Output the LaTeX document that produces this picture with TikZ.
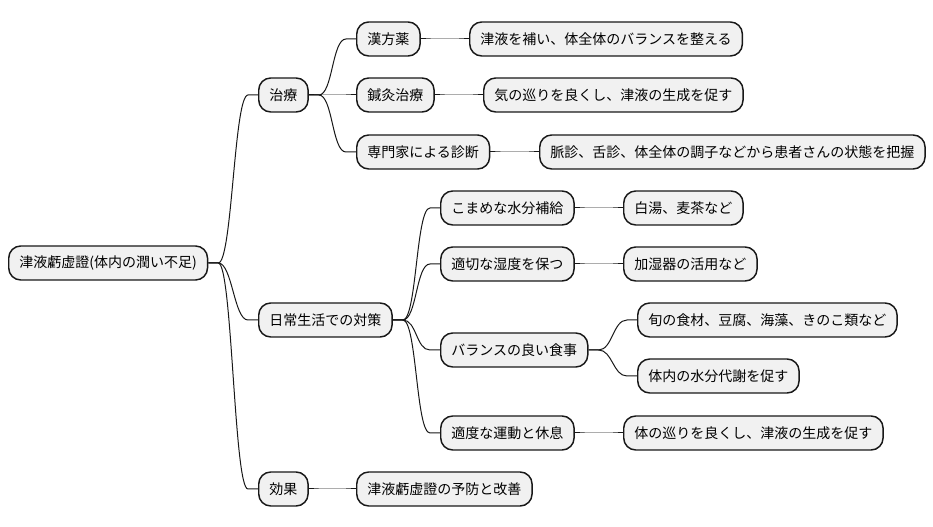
\documentclass[tikz,border=0pt]{standalone}
\usepackage{fontspec}
\setmainfont{Noto Sans CJK JP}
\usetikzlibrary{calc}
\definecolor{boxfill}{HTML}{F1F1F1}
\definecolor{boxline}{HTML}{181818}
\tikzset{
  topic/.style={draw=boxline,fill=boxfill,line width=1.1pt,rounded corners=9pt,
    inner xsep=8pt,minimum height=25.5pt,font=\fontsize{10.5}{12}\selectfont,anchor=west},
  branch/.style={draw=boxline,line width=0.75pt,
    to path={-- ++(10,0) .. controls +(14,0) and +(-14,0) .. ($(\tikztotarget)+(-10,0)$) -- (\tikztotarget)}}
}
\begin{document}
\begin{tikzpicture}[x=0.75pt,y=-0.75pt]
\useasboundingbox (0,0) rectangle (933,527);
\node[topic] (root) at (8,263) {津液虧虚證(体内の潤い不足)};
% 治療
\node[topic] (chiryo) at (258,95) {治療};
\node[topic] (kampo) at (356,39) {漢方薬};
\node[topic] (kampo1) at (469,39) {津液を補い、体全体のバランスを整える};
\node[topic] (shinkyu) at (356,95) {鍼灸治療};
\node[topic] (shinkyu1) at (483,95) {気の巡りを良くし、津液の生成を促す};
\node[topic] (shindan) at (356,152) {専門家による診断};
\node[topic] (shindan1) at (539,152) {脈診、舌診、体全体の調子などから患者さんの状態を把握};
% 日常生活
\node[topic] (seikatsu) at (258,320) {日常生活での対策};
\node[topic] (suibun) at (440,208) {こまめな水分補給};
\node[topic] (suibun1) at (623,208) {白湯、麦茶など};
\node[topic] (shitsudo) at (440,264) {適切な湿度を保つ};
\node[topic] (shitsudo1) at (623,264) {加湿器の活用など};
\node[topic] (shokuji) at (440,350) {バランスの良い食事};
\node[topic] (shokuji1) at (637,320) {旬の食材、豆腐、海藻、きのこ類など};
\node[topic] (shokuji2) at (637,376) {体内の水分代謝を促す};
\node[topic] (undo) at (440,433) {適度な運動と休息};
\node[topic] (undo1) at (623,433) {体の巡りを良くし、津液の生成を促す};
% 効果
\node[topic] (koka) at (258,489) {効果};
\node[topic] (koka1) at (356,489) {津液虧虚證の予防と改善};
% branches
\foreach \p/\c in {root/chiryo,root/seikatsu,root/koka,
  chiryo/kampo,chiryo/shinkyu,chiryo/shindan,
  kampo/kampo1,shinkyu/shinkyu1,shindan/shindan1,
  seikatsu/suibun,seikatsu/shitsudo,seikatsu/shokuji,seikatsu/undo,
  suibun/suibun1,shitsudo/shitsudo1,shokuji/shokuji1,shokuji/shokuji2,undo/undo1,
  koka/koka1}
  \draw[branch] (\p.east) to (\c.west);
\end{tikzpicture}
\end{document}
